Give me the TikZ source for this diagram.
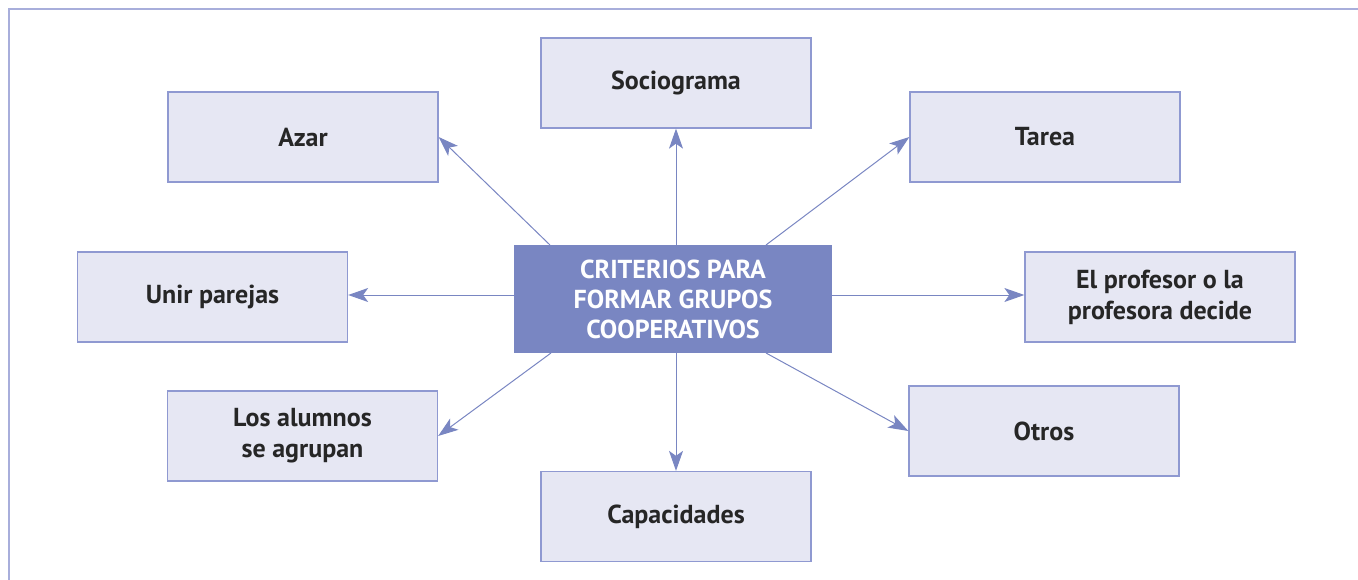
\documentclass[tikz,border=0pt]{standalone}
\usepackage{fontspec}
\setmainfont{PT Sans}
\usetikzlibrary{arrows.meta}
\definecolor{boxfill}{HTML}{E6E7F3}
\definecolor{boxline}{HTML}{8F99D1}
\definecolor{mainfill}{HTML}{7986C2}
\definecolor{arrowc}{HTML}{7986C2}
\definecolor{framec}{HTML}{A8AEDB}
\tikzset{
  leaf/.style={draw=boxline, line width=1.3pt, fill=boxfill, minimum width=270pt, minimum height=90pt,
    inner sep=0pt, align=center, font=\fontsize{26}{31}\selectfont\bfseries, text=black!85},
  hub/.style={fill=mainfill, minimum width=318pt, minimum height=108pt, inner sep=0pt, align=center,
    font=\fontsize{26}{30}\selectfont\bfseries, text=white},
  link/.style={draw=arrowc, line width=1pt, -{Stealth[length=20pt, width=14pt, inset=5pt]}}
}
\begin{document}
\begin{tikzpicture}[x=1pt,y=1pt]
\useasboundingbox (0,0) rectangle (1358,-580);
\draw[framec, line width=2pt] (9,-580) -- (9,-9) -- (1358,-9);
\node[hub] (c) at (673,-299) {CRITERIOS PARA\\FORMAR GRUPOS\\COOPERATIVOS};
\node[leaf] (azar) at (303,-137) {Azar};
\node[leaf] (socio) at (676,-83) {Sociograma};
\node[leaf] (tarea) at (1045,-137) {Tarea};
\node[leaf] (unir) at (212.5,-297) {Unir parejas};
\node[leaf] (prof) at (1160,-297) {El profesor o la\\profesora decide};
\node[leaf] (alum) at (302.5,-436) {Los alumnos\\se agrupan};
\node[leaf] (capa) at (676,-516.5) {Capacidades};
\node[leaf] (otros) at (1044,-431) {Otros};
\coordinate (s1) at (550,-245);
\coordinate (s2) at (676,-245);
\coordinate (s3) at (766,-245);
\coordinate (s4) at (514,-295);
\coordinate (s5) at (832,-295);
\coordinate (s6) at (551,-353);
\coordinate (s7) at (676,-353);
\coordinate (s8) at (766,-353);
\draw[link] (s1) -- (azar.east);
\draw[link] (s2) -- (socio.south);
\draw[link] (s3) -- (tarea.west);
\draw[link] (s4) -- (unir.east |- s4);
\draw[link] (s5) -- (prof.west |- s5);
\draw[link] (s6) -- (alum.east);
\draw[link] (s7) -- (capa.north);
\draw[link] (s8) -- (otros.west);
\end{tikzpicture}
\end{document}
